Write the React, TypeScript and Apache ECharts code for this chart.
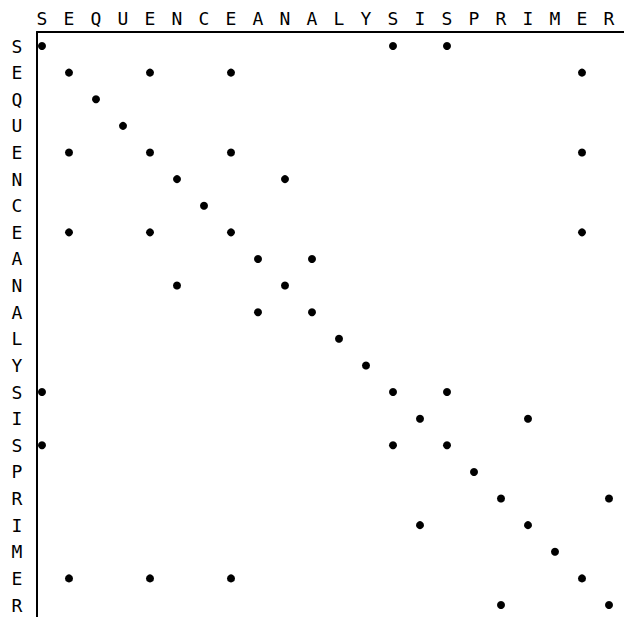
import React, { useEffect, useRef } from "react";
import * as echarts from "echarts";

const colLabels = ["S","E","Q","U","E","N","C","E","A","N","A","L","Y","S","I","S","P","R","I","M","E","R"];
const rowLabels = ["S","E","Q","U","E","N","C","E","A","N","A","L","Y","S","I","S","P","R","I","M","E","R"];

// For each row (top to bottom), the column indices holding a dot
const rowDots: number[][] = [
  [0, 13, 15],
  [1, 4, 7, 20],
  [2],
  [3],
  [1, 4, 7, 20],
  [5, 9],
  [6],
  [1, 4, 7, 20],
  [8, 10],
  [5, 9],
  [8, 10],
  [11],
  [12],
  [0, 13, 15],
  [14, 18],
  [0, 13, 15],
  [16],
  [17, 21],
  [14, 18],
  [19],
  [1, 4, 7, 20],
  [17, 21],
];

const idx = colLabels.map((_, i) => i);
const rowIdx = rowLabels.map((_, i) => i);

export default function App() {
  const ref = useRef<HTMLDivElement>(null);
  useEffect(() => {
    if (!ref.current) return;
    const chart = echarts.init(ref.current, undefined, { renderer: "svg" });
    const points: number[][] = [];
    rowDots.forEach((cols, r) => cols.forEach((c) => points.push([c, r])));
    const font = "DejaVu Sans Mono";
    chart.setOption({
      animation: false,
      backgroundColor: "#ffffff",
      grid: { left: 37, top: 32, right: 0, bottom: 0, containLabel: false },
      xAxis: {
        type: "value",
        position: "top",
        min: -5 / 27,
        max: (624 - 42) / 27,
        splitLine: { show: false },
        axisTick: { show: false },
        axisLine: { show: true, onZero: false, lineStyle: { color: "#000", width: 2 } },
        axisLabel: {
          customValues: idx,
          formatter: (v: number) => colLabels[Math.round(v)] ?? "",
          color: "#000",
          fontFamily: font,
          fontSize: 18,
          margin: 5,
          showMinLabel: true,
          showMaxLabel: true,
        },
      },
      yAxis: {
        type: "value",
        inverse: true,
        min: -14 / 26.62,
        max: (617 - 46) / 26.62,
        splitLine: { show: false },
        axisTick: { show: false },
        axisLine: { show: true, onZero: false, lineStyle: { color: "#000", width: 2 } },
        axisLabel: {
          customValues: rowIdx,
          formatter: (v: number) => rowLabels[Math.round(v)] ?? "",
          color: "#000",
          fontFamily: font,
          fontSize: 18,
          margin: 20,
          align: "center",
          showMinLabel: true,
          showMaxLabel: true,
        },
      },
      series: [
        {
          type: "scatter",
          data: points,
          symbol: "circle",
          symbolSize: 8,
          itemStyle: { color: "#000", opacity: 1 },
        },
      ],
    });
    return () => chart.dispose();
  }, []);
  return (
    <div
      ref={ref}
      style={{ position: "absolute", left: 0, top: 0, width: 624, height: 617 }}
    />
  );
}
